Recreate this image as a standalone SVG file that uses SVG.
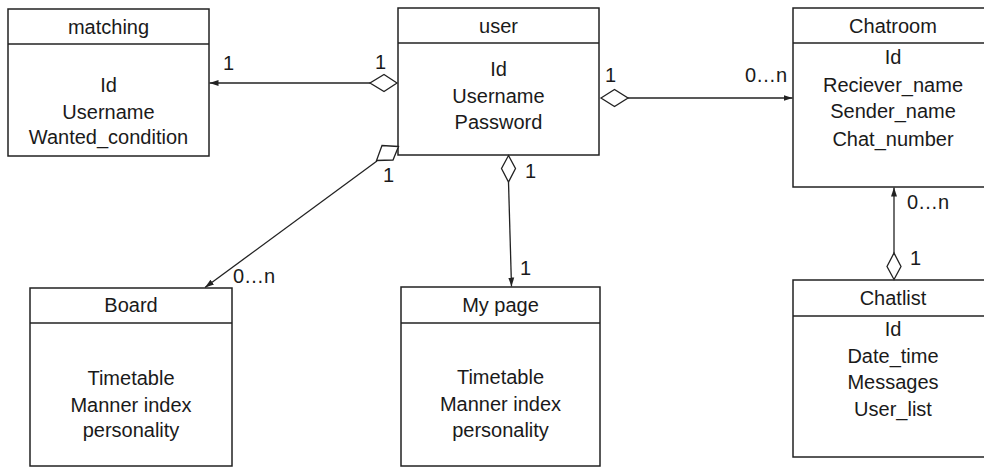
<svg xmlns="http://www.w3.org/2000/svg" width="984" height="467" viewBox="0 0 984 467">
<style>
.box{fill:#fff;stroke:#222;stroke-width:1.5}
.sep{stroke:#222;stroke-width:1.5}
text{font-family:"Liberation Sans",Arial,sans-serif;font-size:20px;fill:#1a1a1a}
.c{text-anchor:middle}
.ln{fill:none;stroke:#222;stroke-width:1.3}
.dia{fill:#fff;stroke:#222;stroke-width:1.3}
</style>
<defs>
<marker id="arr" markerWidth="10" markerHeight="8" refX="9" refY="4" orient="auto" markerUnits="userSpaceOnUse">
<path d="M0,1 L9,4 L0,7 Z" fill="#222"/>
</marker>
</defs>
<rect width="984" height="467" fill="#fff"/>
<g id="matching">
<rect class="box" x="8" y="9" width="201" height="147"/>
<line class="sep" x1="8" y1="44" x2="209" y2="44"/>
<text class="c" x="108.5" y="34">matching</text>
<text class="c" x="108.5" y="92">Id</text>
<text class="c" x="108.5" y="119">Username</text>
<text class="c" x="108.5" y="144">Wanted_condition</text>
</g>
<g id="user">
<rect class="box" x="398" y="8" width="201" height="147"/>
<line class="sep" x1="398" y1="43" x2="599" y2="43"/>
<text class="c" x="498.5" y="33">user</text>
<text class="c" x="498.5" y="76">Id</text>
<text class="c" x="498.5" y="103">Username</text>
<text class="c" x="498.5" y="129">Password</text>
</g>
<g id="chatroom">
<rect class="box" x="793" y="8" width="200" height="179"/>
<line class="sep" x1="793" y1="43" x2="993" y2="43"/>
<text class="c" x="893" y="33">Chatroom</text>
<text class="c" x="893" y="64">Id</text>
<text class="c" x="893" y="92">Reciever_name</text>
<text class="c" x="893" y="118">Sender_name</text>
<text class="c" x="893" y="146">Chat_number</text>
</g>
<g id="chatlist">
<rect class="box" x="793" y="280" width="200" height="177"/>
<line class="sep" x1="793" y1="316" x2="993" y2="316"/>
<text class="c" x="893" y="305">Chatlist</text>
<text class="c" x="893" y="336">Id</text>
<text class="c" x="893" y="363">Date_time</text>
<text class="c" x="893" y="389">Messages</text>
<text class="c" x="893" y="416">User_list</text>
</g>
<g id="board">
<rect class="box" x="30" y="288" width="202" height="178"/>
<line class="sep" x1="30" y1="323" x2="232" y2="323"/>
<text class="c" x="131" y="312">Board</text>
<text class="c" x="131" y="385">Timetable</text>
<text class="c" x="131" y="412">Manner index</text>
<text class="c" x="131" y="437">personality</text>
</g>
<g id="mypage">
<rect class="box" x="401" y="287" width="199" height="179"/>
<line class="sep" x1="401" y1="323" x2="600" y2="323"/>
<text class="c" x="500.5" y="312">My page</text>
<text class="c" x="500.5" y="384">Timetable</text>
<text class="c" x="500.5" y="411">Manner index</text>
<text class="c" x="500.5" y="437">personality</text>
</g>
<g id="connectors">
<!-- user -> matching -->
<line class="ln" x1="370" y1="83" x2="209.5" y2="83" marker-end="url(#arr)"/>
<path class="dia" d="M397,83 L384,74.5 L370,83 L384,91.5 Z"/>
<text x="223" y="70">1</text>
<text x="375" y="69">1</text>
<!-- user -> chatroom -->
<line class="ln" x1="628" y1="98" x2="792.5" y2="98" marker-end="url(#arr)"/>
<path class="dia" d="M601,98 L614.5,89.5 L628,98 L614.5,106.5 Z"/>
<text x="605" y="82">1</text>
<text x="745" y="82">0…n</text>
<!-- user -> board -->
<line class="ln" x1="377" y1="161" x2="205" y2="287.5" marker-end="url(#arr)"/>
<path class="dia" d="M398.5,146.5 L382,145.5 L376.5,160.5 L393,160 Z"/>
<text x="383" y="182">1</text>
<text x="233" y="283">0…n</text>
<!-- user -> my page -->
<line class="ln" x1="508.5" y1="182" x2="511.5" y2="286.5" marker-end="url(#arr)"/>
<path class="dia" d="M508.5,155.5 L515.5,168.5 L508.5,182 L501.5,168.5 Z"/>
<text x="525" y="178">1</text>
<text x="520" y="275">1</text>
<!-- chatlist -> chatroom -->
<line class="ln" x1="894" y1="253" x2="894" y2="187.5" marker-end="url(#arr)"/>
<path class="dia" d="M894,279.5 L901,266.5 L894,253 L887,266.5 Z"/>
<text x="907" y="209">0…n</text>
<text x="910" y="265">1</text>
</g>
</svg>
